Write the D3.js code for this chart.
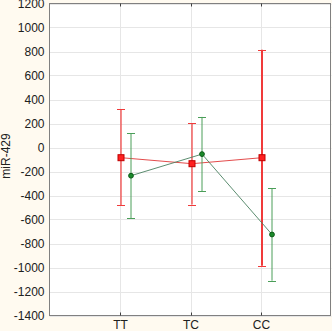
<!DOCTYPE html>
<html>
<head>
<meta charset="utf-8">
<script src="https://cdn.jsdelivr.net/npm/d3@7"></script>
<style>
  body { margin: 0; background: #fffaf0; }
  svg { display: block; }
</style>
</head>
<body>
<svg id="chart" width="332" height="331"></svg>
<script>
// data
var categories = ["TT", "TC", "CC"];
var yTicks = [1200, 1000, 800, 600, 400, 200, 0, -200, -400, -600, -800, -1000, -1200, -1400];

var redMean  = [-85, -135, -85];
var redLow   = [-480, -475, -985];
var redHigh  = [320, 205, 815];

var greenMean = [-235, -55, -725];
var greenLow  = [-590, -365, -1110];
var greenHigh = [120, 255, -340];

// layout
var plotLeft = 49.5, plotRight = 331.5, plotTop = 3.5, plotBottom = 315.5;
var fontSize = 12;

var svg = d3.select("#chart");

var x = d3.scaleLinear().domain([0, categories.length + 1]).range([plotLeft, plotRight]);
var y = d3.scaleLinear().domain([-1400, 1200]).range([plotBottom, plotTop]);

// plot area
svg.append("rect")
    .attr("x", plotLeft).attr("y", plotTop)
    .attr("width", plotRight - plotLeft).attr("height", plotBottom - plotTop)
    .attr("fill", "#ffffff");

// grid
svg.append("g").selectAll("line")
    .data(yTicks)
    .enter().append("line")
    .attr("x1", plotLeft).attr("x2", plotRight)
    .attr("y1", function(d){ return Math.round(y(d)) + 0.5; })
    .attr("y2", function(d){ return Math.round(y(d)) + 0.5; })
    .attr("stroke", "#e6e6e6");

svg.append("g").selectAll("line")
    .data(categories)
    .enter().append("line")
    .attr("x1", function(d, i){ return Math.round(x(i + 1)) + 0.5; })
    .attr("x2", function(d, i){ return Math.round(x(i + 1)) + 0.5; })
    .attr("y1", plotTop).attr("y2", plotBottom)
    .attr("stroke", "#e6e6e6");

// frame
svg.append("rect")
    .attr("x", plotLeft).attr("y", plotTop)
    .attr("width", plotRight - plotLeft - 1).attr("height", plotBottom - plotTop)
    .attr("fill", "none")
    .attr("stroke", "#808080");

// category ticks top & bottom
categories.forEach(function(c, i){
    var cx = Math.round(x(i + 1)) + 0.5;
    svg.append("line").attr("x1", cx).attr("x2", cx)
        .attr("y1", plotBottom - 3).attr("y2", plotBottom).attr("stroke", "#404040");
    svg.append("line").attr("x1", cx).attr("x2", cx)
        .attr("y1", plotTop).attr("y2", plotTop + 3).attr("stroke", "#404040");
});

// y tick labels
svg.append("g").selectAll("text")
    .data(yTicks)
    .enter().append("text")
    .text(function(d){ return d; })
    .attr("x", 44.5)
    .attr("y", function(d){ return y(d) + 4.3; })
    .attr("text-anchor", "end")
    .attr("font-family", "Liberation Sans, Arial, sans-serif")
    .attr("font-size", fontSize)
    .attr("fill", "#202020");

// x labels
svg.append("g").selectAll("text")
    .data(categories)
    .enter().append("text")
    .text(function(d){ return d; })
    .attr("x", function(d, i){ return x(i + 1) + 0.5; })
    .attr("y", 328.5)
    .attr("text-anchor", "middle")
    .attr("font-family", "Liberation Sans, Arial, sans-serif")
    .attr("font-size", fontSize)
    .attr("fill", "#202020");

// y axis title
svg.append("text")
    .text("miR-429")
    .attr("transform", "translate(9.5," + 156 + ") rotate(-90)")
    .attr("text-anchor", "middle")
    .attr("font-family", "Liberation Sans, Arial, sans-serif")
    .attr("font-size", fontSize)
    .attr("fill", "#202020");

// series
function drawSeries(mean, low, high, offset, color, lineColor, whiskerWidth, marker){
    var g = svg.append("g");
    var px = function(i){ return Math.round(x(i + 1)) + offset; };

    // connecting line
    var line = d3.line()
        .x(function(d, i){ return px(i); })
        .y(function(d){ return y(d); });
    g.append("path")
        .datum(mean)
        .attr("d", line)
        .attr("fill", "none")
        .attr("stroke", lineColor)
        .attr("stroke-width", 0.9);

    // whiskers
    mean.forEach(function(m, i){
        var cx = px(i);
        g.append("line")
            .attr("x1", cx).attr("x2", cx)
            .attr("y1", y(low[i])).attr("y2", y(high[i]))
            .attr("stroke", color)
            .attr("stroke-width", whiskerWidth[i]);
        [low[i], high[i]].forEach(function(v){
            g.append("line")
                .attr("x1", cx - 4).attr("x2", cx + 4)
                .attr("y1", Math.round(y(v)) + 0.5).attr("y2", Math.round(y(v)) + 0.5)
                .attr("stroke", color);
        });
    });

    // markers
    mean.forEach(function(m, i){
        var cx = px(i), cy = y(m);
        if (marker == "square") {
            g.append("rect")
                .attr("x", cx - 3).attr("y", cy - 3)
                .attr("width", 6).attr("height", 6)
                .attr("fill", "#ff2020")
                .attr("stroke", "#c00000");
        } else {
            g.append("circle")
                .attr("cx", cx).attr("cy", cy)
                .attr("r", 2.4)
                .attr("fill", "#1a8a2a")
                .attr("stroke", "#0b5a16");
        }
    });
}

drawSeries(redMean, redLow, redHigh, 1, "#f03a3a", "#e03838", [1.2, 1.2, 2], "square");
drawSeries(greenMean, greenLow, greenHigh, 11, "#4a9e58", "#4a8060", [1, 1, 1], "circle");
</script>
</body>
</html>
